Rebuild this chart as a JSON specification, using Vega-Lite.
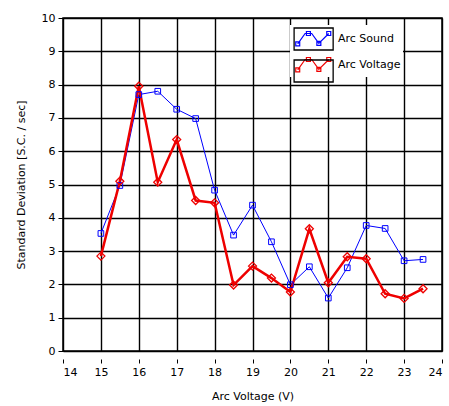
{
  "$schema": "https://vega.github.io/schema/vega-lite/v6.json",
  "width": 379,
  "height": 333,
  "autosize": {"type": "none"},
  "padding": {"left": 63, "top": 18, "right": 7, "bottom": 55},
  "background": "white",
  "config": {
    "font": "DejaVu Sans",
    "view": {"stroke": "black", "strokeWidth": 1.5},
    "axis": {
      "gridColor": "black", "gridOpacity": 1, "gridWidth": 1.4,
      "labelFont": "DejaVu Sans", "labelFontSize": 11, "labelColor": "black",
      "titleFont": "DejaVu Sans", "titleFontSize": 11, "titleFontWeight": "normal", "titleColor": "black",
      "tickColor": "black", "tickWidth": 1, "domain": false
    }
  },
  "data": {"values": [
    {"v": 15, "series": "Arc Sound", "sd": 3.53},
    {"v": 15.5, "series": "Arc Sound", "sd": 4.97},
    {"v": 16, "series": "Arc Sound", "sd": 7.7},
    {"v": 16.5, "series": "Arc Sound", "sd": 7.8},
    {"v": 17, "series": "Arc Sound", "sd": 7.26},
    {"v": 17.5, "series": "Arc Sound", "sd": 6.98},
    {"v": 18, "series": "Arc Sound", "sd": 4.83},
    {"v": 18.5, "series": "Arc Sound", "sd": 3.48},
    {"v": 19, "series": "Arc Sound", "sd": 4.38},
    {"v": 19.5, "series": "Arc Sound", "sd": 3.28},
    {"v": 20, "series": "Arc Sound", "sd": 1.99},
    {"v": 20.5, "series": "Arc Sound", "sd": 2.53},
    {"v": 21, "series": "Arc Sound", "sd": 1.59},
    {"v": 21.5, "series": "Arc Sound", "sd": 2.5},
    {"v": 22, "series": "Arc Sound", "sd": 3.77},
    {"v": 22.5, "series": "Arc Sound", "sd": 3.68},
    {"v": 23, "series": "Arc Sound", "sd": 2.71},
    {"v": 23.5, "series": "Arc Sound", "sd": 2.75},
    {"v": 15, "series": "Arc Voltage", "sd": 2.85},
    {"v": 15.5, "series": "Arc Voltage", "sd": 5.1},
    {"v": 16, "series": "Arc Voltage", "sd": 7.95},
    {"v": 16.5, "series": "Arc Voltage", "sd": 5.07},
    {"v": 17, "series": "Arc Voltage", "sd": 6.35},
    {"v": 17.5, "series": "Arc Voltage", "sd": 4.52},
    {"v": 18, "series": "Arc Voltage", "sd": 4.45},
    {"v": 18.5, "series": "Arc Voltage", "sd": 1.98},
    {"v": 19, "series": "Arc Voltage", "sd": 2.55},
    {"v": 19.5, "series": "Arc Voltage", "sd": 2.19},
    {"v": 20, "series": "Arc Voltage", "sd": 1.77},
    {"v": 20.5, "series": "Arc Voltage", "sd": 3.67},
    {"v": 21, "series": "Arc Voltage", "sd": 2.05},
    {"v": 21.5, "series": "Arc Voltage", "sd": 2.83},
    {"v": 22, "series": "Arc Voltage", "sd": 2.77},
    {"v": 22.5, "series": "Arc Voltage", "sd": 1.72},
    {"v": 23, "series": "Arc Voltage", "sd": 1.58},
    {"v": 23.5, "series": "Arc Voltage", "sd": 1.87}
  ]},
  "encoding": {
    "x": {"field": "v", "type": "quantitative",
      "scale": {"domain": [14, 24], "nice": false, "zero": false},
      "axis": {"title": "Arc Voltage (V)", "values": [14,15,16,17,18,19,20,21,22,23,24], "offset": 8, "tickSize": 4, "labelPadding": 3, "titlePadding": 13, "format": "d"}},
    "y": {"field": "sd", "type": "quantitative",
      "scale": {"domain": [0, 10], "nice": false},
      "axis": {"title": "Standard Deviation [S.C. / sec]", "values": [0,1,2,3,4,5,6,7,8,9,10], "tickSize": 5, "labelPadding": 3, "titlePadding": 15, "format": "d"}},
    "color": {"field": "series", "type": "nominal",
      "scale": {"domain": ["Arc Sound", "Arc Voltage"], "range": ["#0000ff", "#ee0000"]},
      "legend": {
        "title": null, "orient": "none", "legendX": 227, "legendY": 7,
        "fillColor": "white", "padding": 2, "symbolSize": 484, "rowPadding": 4,
        "labelOffset": 22, "labelFont": "DejaVu Sans", "labelFontSize": 11, "labelColor": "black",
        "labelLimit": 200,
        "symbolType": "M-0.57,0.45L0.1,-0.5L0.7,-0.5L1.35,0.4L2.25,-0.5M-0.75,0.27h0.36v0.36h-0.36zM0.22,-0.68h0.36v0.36h-0.36zM1.17,0.22h0.36v0.36h-0.36zM2.07,-0.68h0.36v0.36h-0.36z",
        "symbolStrokeWidth": 1.2,
        "symbolFillColor": "transparent",
        "symbolOpacity": 1
      }},
    "opacity": {"field": "series", "type": "nominal", "scale": {"range": [1, 1]},
      "legend": {
        "title": null, "orient": "none", "legendX": 227, "legendY": 7,
        "padding": 2, "symbolSize": 484, "rowPadding": 4,
        "labelOffset": 22, "labelFont": "DejaVu Sans", "labelFontSize": 11, "labelExpr": "''",
        "labelLimit": 200,
        "symbolType": "M-0.9,-1H2.65V1H-0.9Z",
        "symbolStrokeColor": "black", "symbolStrokeWidth": 1.3, "symbolFillColor": "transparent", "symbolOpacity": 1
      }}
  },
  "layer": [
    {
      "transform": [{"filter": "datum.series === 'Arc Sound'"}],
      "mark": {"type": "line", "strokeWidth": 1}
    },
    {
      "transform": [{"filter": "datum.series === 'Arc Voltage'"}],
      "mark": {"type": "line", "strokeWidth": 2.5}
    },
    {
      "transform": [{"filter": "datum.series === 'Arc Sound'"}],
      "mark": {"type": "point", "shape": "square", "filled": false, "size": 32, "strokeWidth": 1}
    },
    {
      "transform": [{"filter": "datum.series === 'Arc Voltage'"}],
      "mark": {"type": "point", "shape": "diamond", "filled": false, "size": 64, "strokeWidth": 1.3}
    }
  ]
}
